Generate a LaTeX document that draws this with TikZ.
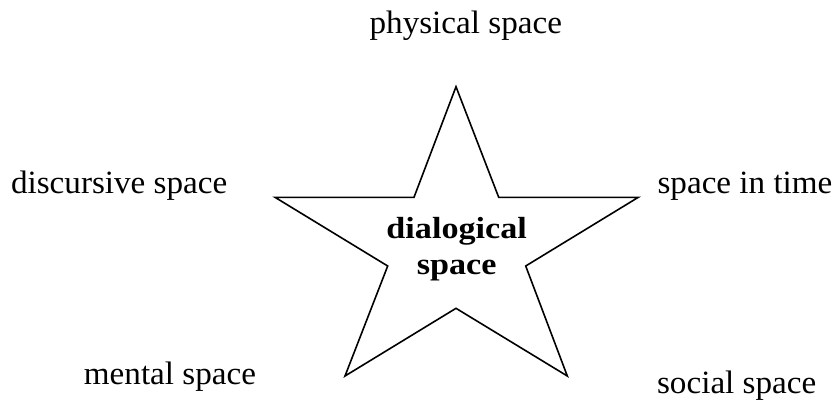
\documentclass[tikz,border=0pt]{standalone}
\usepackage{fontspec}
\setmainfont{Liberation Serif}[FakeStretch=1.02]
\newfontfamily\boldlab{Liberation Serif Bold}[FakeStretch=1.12]
\begin{document}
\begin{tikzpicture}[x=1pt,y=-1pt,
  lab/.style={anchor=base,inner sep=0pt,font=\fontsize{32.5}{38}\selectfont},
  centrelab/.style={anchor=base,inner sep=0pt,font=\boldlab\fontsize{30.5}{36}\selectfont},
  starline/.style={draw=black,line width=1.6pt,line join=miter}]
\useasboundingbox (0,0) rectangle (837,399);
% star points
\coordinate (top) at (456,86.7);
\coordinate (itl) at (414,197.3);
\coordinate (ltip) at (275,197.3);
\coordinate (il) at (387.7,266);
\coordinate (bl) at (345,376);
\coordinate (ib) at (456,308.3);
\coordinate (br) at (567.3,376);
\coordinate (ir) at (525.7,266);
\coordinate (rtip) at (638.3,197.3);
\coordinate (itr) at (498.7,197.3);
\draw[starline] (top) -- (itr) -- (rtip) -- (ir) -- (br) -- (ib) -- (bl) -- (il) -- (ltip) -- (itl) -- cycle;
% labels
\node[lab] (phys) at (465.8,33.3) {physical space};
\node[lab] (disc) at (119.2,193.3) {discursive space};
\node[lab] (time) at (745,193.3) {space in time};
\node[lab] (ment) at (170,384.3) {mental space};
\node[lab] (soc) at (736.7,393.3) {social space};
\node[centrelab] (dia) at (456.7,238.5) {dialogical};
\node[centrelab] (spc) at (456.7,274) {space};
\end{tikzpicture}
\end{document}
